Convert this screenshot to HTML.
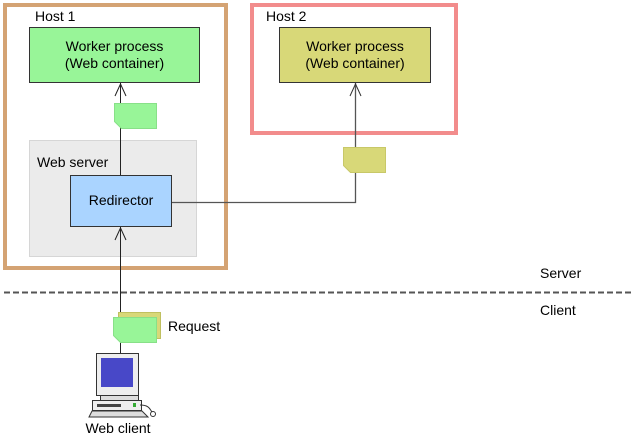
<!DOCTYPE html>
<html><head><meta charset="utf-8"><style>
html,body{margin:0;padding:0;background:#fff;}
svg{display:block;font-family:"Liberation Sans",Arial,sans-serif;}
</style></head><body>
<svg width="633" height="445" viewBox="0 0 633 445" xmlns="http://www.w3.org/2000/svg">
<rect x="0" y="0" width="633" height="445" fill="#fff"/>
<!-- Host 1 -->
<rect x="5" y="5" width="221" height="263" fill="none" stroke="#d4a373" stroke-width="4"/>
<text x="35" y="21" font-size="14" fill="#000">Host 1</text>
<rect x="29.5" y="27.5" width="170" height="55" fill="#98f598" stroke="#333" stroke-width="1"/>
<text x="114.5" y="51" font-size="14" text-anchor="middle">Worker process</text>
<text x="114.5" y="68" font-size="14" text-anchor="middle">(Web container)</text>
<!-- Host 2 -->
<rect x="252" y="5" width="204" height="128" fill="none" stroke="#f28c8c" stroke-width="4"/>
<text x="266" y="21" font-size="14" fill="#000">Host 2</text>
<rect x="279.5" y="27.5" width="151" height="55" fill="#d8d878" stroke="#333" stroke-width="1"/>
<text x="355" y="51" font-size="14" text-anchor="middle">Worker process</text>
<text x="355" y="68" font-size="14" text-anchor="middle">(Web container)</text>
<!-- Web server -->
<rect x="29.5" y="140.5" width="167" height="116" fill="#ebebeb" stroke="#d6d6d6"/>
<text x="37" y="167" font-size="14">Web server</text>
<!-- connectors -->
<line x1="120.5" y1="83" x2="120.5" y2="175" stroke="#222" stroke-width="1"/>
<polyline points="115,96 120.5,84 126,96" fill="none" stroke="#222"/>
<polyline points="172,202.5 355.5,202.5 355.5,83" fill="none" stroke="#555" stroke-width="1.3"/>
<polyline points="350,96 355.5,84 361,96" fill="none" stroke="#333"/>
<line x1="120.5" y1="227" x2="120.5" y2="355" stroke="#222"/>
<polyline points="115,240 120.5,228 126,240" fill="none" stroke="#222"/>
<!-- Redirector -->
<rect x="70.5" y="175.5" width="101" height="51" fill="#aad4ff" stroke="#333"/>
<text x="121" y="205" font-size="14" text-anchor="middle">Redirector</text>
<!-- docs -->
<path d="M114.5,103.5 H156.5 V128.5 H121.5 L114.5,121.5 Z" fill="#98f598" stroke="#88e088"/>
<path d="M343.5,147.5 H385.5 V172.5 H350.5 L343.5,165.5 Z" fill="#d8d878" stroke="#c8c868"/>
<path d="M118.5,312.5 H160.5 V338.5 H118.5 Z" fill="#d8d878" stroke="#c0c060"/>
<path d="M113.5,317.5 H156.5 V342.5 H120.5 L113.5,335.5 Z" fill="#98f598" stroke="#88e088"/>
<text x="168" y="331" font-size="14">Request</text>
<!-- dashed -->
<line x1="4" y1="292.5" x2="633" y2="292.5" stroke="#555" stroke-width="2" stroke-dasharray="6,3"/>
<text x="540" y="278" font-size="14">Server</text>
<text x="540" y="315" font-size="14">Client</text>
<!-- computer -->
<rect x="96.5" y="353.5" width="42" height="42" fill="#eee" stroke="#333"/>
<rect x="101" y="358" width="32" height="29" fill="#4848c8"/>
<rect x="100.5" y="395.5" width="38" height="5" fill="#ddd" stroke="#333"/>
<rect x="92.5" y="400.5" width="49" height="10" fill="#eee" stroke="#333"/>
<rect x="97" y="404" width="24" height="3" fill="#444"/>
<rect x="133" y="403" width="3" height="4" fill="#3a3"/>
<path d="M92,411 H142 L148,417 H89 Z" fill="#ddd" stroke="#333"/>
<path d="M140,405 C150,405 150,410 152,412" fill="none" stroke="#333"/>
<circle cx="153" cy="414" r="2.5" fill="#fff" stroke="#333"/>
<text x="118" y="433" font-size="14" text-anchor="middle">Web client</text>
</svg>
</body></html>
